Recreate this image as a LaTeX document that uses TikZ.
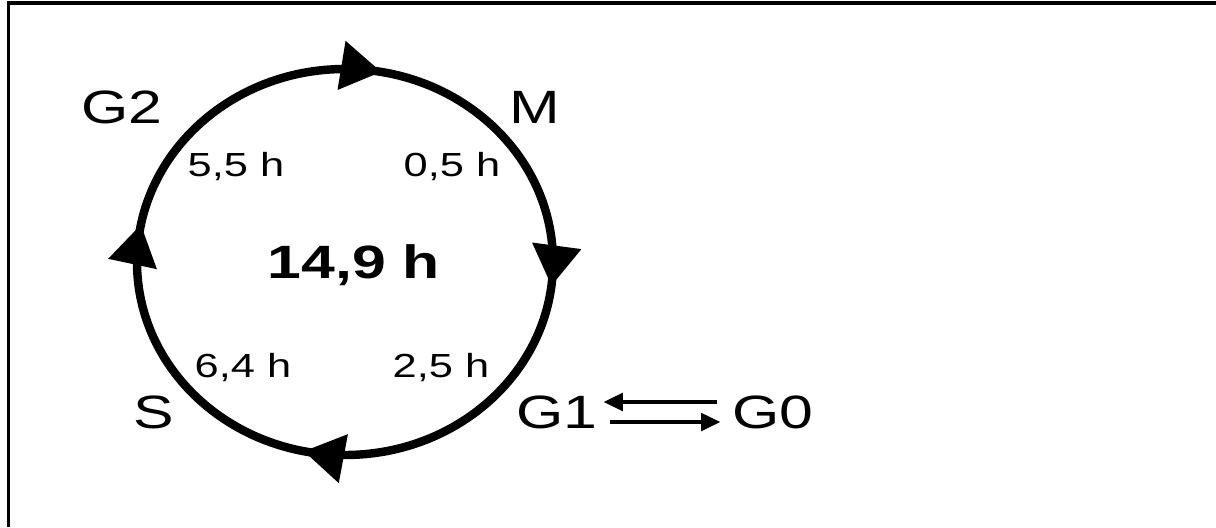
\documentclass[tikz,border=0pt]{standalone}
\usepackage{fontspec}
\setmainfont[FakeStretch=1.3]{Liberation Sans}
\usetikzlibrary{arrows.meta,decorations.markings}

\begin{document}
\begin{tikzpicture}[x=0.02cm, y=-0.02cm, line width=4.8pt,
    phase/.style={inner sep=2pt, font=\fontsize{26.6}{30}\selectfont},
    dur/.style={inner sep=2pt, font=\fontsize{19}{22}\selectfont},
    cyclearrow/.style={decoration={markings,
      mark=at position 0.019 with {\arrow{Triangle[length=23pt, width=27pt]}},
      mark=at position 0.283 with {\arrow{Triangle[length=23pt, width=27pt]}},
      mark=at position 0.530 with {\arrow{Triangle[length=23pt, width=27pt]}},
      mark=at position 0.779 with {\arrow{Triangle[length=23pt, width=27pt]}}},
      postaction=decorate},
    flow/.style={line width=2.1pt, -{Triangle[length=11pt, width=10pt]}}]
  \useasboundingbox (0,0) rectangle (1216,527);
  % frame
  \draw[line width=1.9pt] (8.5,527) -- (8.5,3) -- (1216,3);
  % cell cycle
  \draw[cyclearrow] (345,262) ellipse [x radius=208, y radius=193];
  % phases
  \node[phase] (g2) at (122,107) {G2};
  \node[phase] (m) at (535,107) {M};
  \node[phase] (s) at (154,412) {S};
  \node[phase] (g1) at (557,412) {G1};
  \node[phase] (g0) at (773,412) {G0};
  % durations
  \node[dur] (t55) at (236,167) {5,5 h};
  \node[dur] (t05) at (452,167) {0,5 h};
  \node[dur] (t64) at (243,368) {6,4 h};
  \node[dur] (t25) at (441,368) {2,5 h};
  \node[phase, font=\bfseries\fontsize{26.6}{30}\selectfont] (total) at (354,265) {14,9 h};
  % G1 <-> G0
  \draw[flow, shorten <=4.5pt, shorten >=-1pt] ([yshift=5.7pt]g0.west) -- ([yshift=5.7pt]g1.east);
  \draw[flow, shorten <=2.5pt, shorten >=2.5pt] ([yshift=-5.7pt]g1.east) -- ([yshift=-5.7pt]g0.west);
\end{tikzpicture}
\end{document}
